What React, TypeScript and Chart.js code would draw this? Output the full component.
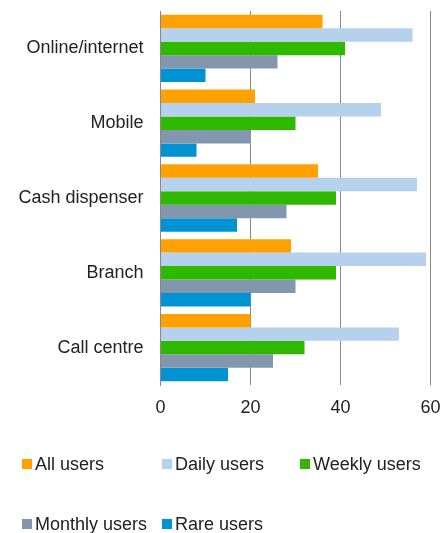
import React, { useEffect, useRef } from "react";
import { Chart, registerables } from "chart.js";

Chart.register(...registerables);

const categories = ["Online/internet", "Mobile", "Cash dispenser", "Branch", "Call centre"];
const seriesNames = ["All users", "Daily users", "Weekly users", "Monthly users", "Rare users"];
const allUsers = [36, 21, 35, 29, 20];
const dailyUsers = [56, 49, 57, 59, 53];
const weeklyUsers = [41, 30, 39, 39, 32];
const monthlyUsers = [26, 20, 28, 30, 25];
const rareUsers = [10, 8, 17, 20, 15];
const xTicks = [0, 20, 40, 60];
const colors = ["#FFA100", "#B5D1EE", "#2EB800", "#8297AD", "#0093D3"];

const FONT = "'Liberation Sans', Arial, sans-serif";

const gridLegend = {
  id: "gridLegend",
  afterDraw(chart: any) {
    const ctx = chart.ctx;
    const cols = [22, 162, 300];
    const rows = [464, 524];
    ctx.save();
    ctx.font = `18px ${FONT}`;
    ctx.textBaseline = "middle";
    ctx.textAlign = "left";
    chart.data.datasets.forEach((ds: any, i: number) => {
      const x = cols[i % 3];
      const y = rows[Math.floor(i / 3)];
      ctx.fillStyle = ds.backgroundColor;
      ctx.fillRect(x, y - 5, 10, 10);
      ctx.fillStyle = "#222";
      ctx.fillText(ds.label, x + 13, y + 1);
    });
    ctx.restore();
  },
};

export default function App() {
  const ref = useRef<HTMLCanvasElement>(null);
  useEffect(() => {
    const values = [allUsers, dailyUsers, weeklyUsers, monthlyUsers, rareUsers];
    const chart = new Chart(ref.current!, {
      type: "bar",
      data: {
        labels: categories,
        datasets: seriesNames.map((name, i) => ({
          label: name,
          data: values[i],
          backgroundColor: colors[i],
          borderWidth: 0,
          categoryPercentage: 0.9,
          barPercentage: 1.0,
        })),
      },
      options: {
        indexAxis: "y",
        animation: false,
        responsive: false,
        maintainAspectRatio: false,
        layout: { padding: { top: 11, right: 10.5, bottom: 108, left: 0 } },
        plugins: {
          legend: { display: false },
          tooltip: { enabled: false },
        },
        scales: {
          x: {
            min: 0,
            max: 60,
            afterBuildTicks: (scale: any) => {
              scale.ticks = xTicks.map((v) => ({ value: v }));
            },
            afterFit: (scale: any) => {
              scale.height = 40;
              scale.paddingLeft = 0;
              scale.paddingRight = 0;
              scale.paddingTop = 0;
              scale.paddingBottom = 0;
            },
            grid: { color: "#888888", lineWidth: 1, drawTicks: false },
            border: { display: false },
            ticks: { color: "#222", font: { size: 18, family: FONT }, padding: 12 },
          },
          y: {
            afterFit: (scale: any) => {
              scale.width = 160.5;
              scale.paddingLeft = 0;
              scale.paddingRight = 0;
              scale.paddingTop = 0;
              scale.paddingBottom = 0;
            },
            grid: { display: false, drawTicks: false },
            border: { display: true, color: "#888888", width: 1 },
            ticks: { color: "#222", font: { size: 18, family: FONT }, padding: 17 },
          },
        },
      },
      plugins: [gridLegend],
    } as any);
    return () => chart.destroy();
  }, []);
  return (
    <div style={{ position: "fixed", left: 0, top: 0, width: 441, height: 533, background: "#fff" }}>
      <canvas ref={ref} width={441} height={533} style={{ display: "block" }} />
    </div>
  );
}
